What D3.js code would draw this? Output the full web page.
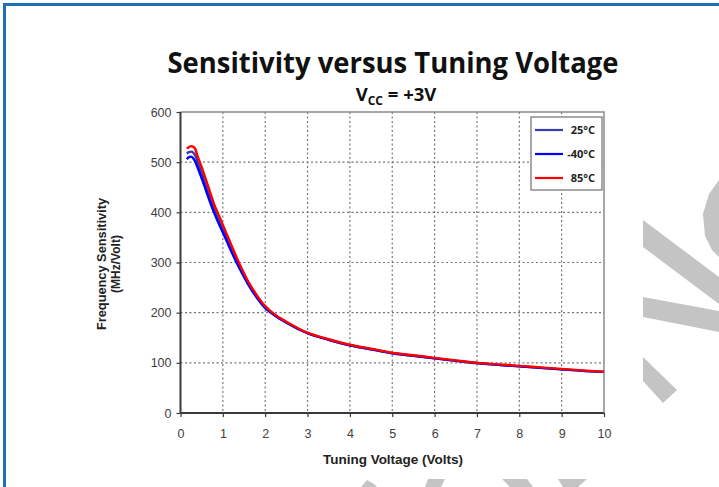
<!DOCTYPE html>
<html>
<head>
<meta charset="utf-8">
<script src="https://cdn.jsdelivr.net/npm/d3@7"></script>
<style>
  body { margin: 0; background: #fff; }
  svg { display: block; }
</style>
</head>
<body>
<svg></svg>
<script>
const size = {w: 719, h: 487};
const plot = {l: 180.5, r: 604, t: 112, b: 413};

// data
const voltage = [0.15, 0.2, 0.25, 0.3, 0.35, 0.4, 0.5, 0.6, 0.7, 0.8, 0.9, 1.0, 1.2, 1.4, 1.6, 1.8, 2.0, 2.2, 2.5, 3.0, 3.5, 4.0, 4.5, 5.0, 5.5, 6.0, 6.5, 7.0, 7.5, 8.0, 8.5, 9.0, 9.5, 10.0];
const sens25 = [517, 520, 521, 519, 513, 501, 478, 453, 428, 405, 385, 366, 327, 290, 258, 232, 211, 197, 181, 159, 146, 135, 127, 119, 114, 109, 104, 99, 96, 93, 90, 87, 84, 82];
const sensM40 = [506, 510, 511, 508, 501, 490, 468, 444, 420, 398, 378, 360, 322, 287, 256, 230, 209, 196, 180, 159, 146, 135, 127, 119, 114, 109, 104, 100, 96, 93, 90, 87, 84, 82];
const sens85 = [527, 530, 532, 531, 526, 513, 490, 465, 440, 415, 395, 375, 335, 296, 262, 235, 213, 198, 182, 160, 147, 136, 128, 120, 115, 110, 105, 100, 97, 94, 91, 88, 85, 82];
const xTicks = [0, 1, 2, 3, 4, 5, 6, 7, 8, 9, 10];
const yTicks = [0, 100, 200, 300, 400, 500, 600];

const series = [
    {name: '25°C', values: sens25, color: '#3b3bb0'},
    {name: '-40°C', values: sensM40, color: '#0000ff'},
    {name: '85°C', values: sens85, color: '#ff0000'}
];

const svg = d3.select('svg')
    .attr('width', size.w)
    .attr('height', size.h);

// watermark pieces that show round the pasted chart image
const wmColor = '#c4c4c4';
const watermark = [
    [[643,220],[719,277],[719,304],[643,247]],
    [[643,297],[719,311],[719,332],[643,317]],
    [[719,180],[709,194],[703,214],[705,236],[712,250],[719,257]],
    [[643,357],[643,381],[663,403],[677,390]],
    [[361,487],[367,480],[374,484],[377,487]],
    [[428,479],[445,479],[441,487],[425,487]],
    [[502,479],[527,479],[533,487],[510,487]],
    [[558,479],[587,479],[578,487],[563,487]]
];
svg.append('g').selectAll('polygon')
    .data(watermark)
    .enter()
    .append('polygon')
    .attr('points', d => d.map(p => p.join(',')).join(' '))
    .attr('fill', wmColor);

// blue page frame
svg.append('rect')
    .attr('x', 4.5).attr('y', 4.5)
    .attr('width', size.w + 10).attr('height', size.h + 10)
    .attr('fill', 'none')
    .attr('stroke', '#1a72b4')
    .attr('stroke-width', 3);

const x = d3.scaleLinear().domain([0, 10]).range([plot.l, plot.r]);
const y = d3.scaleLinear().domain([0, 600]).range([plot.b, plot.t]);

// dotted grid
const grid = svg.append('g').attr('stroke', '#777').attr('stroke-width', 1.2)
    .attr('stroke-dasharray', '2,2.5');
grid.selectAll('.gx')
    .data(xTicks.slice(1, -1))
    .enter().append('line')
    .attr('x1', d => x(d)).attr('x2', d => x(d))
    .attr('y1', plot.t).attr('y2', plot.b);
grid.selectAll('.gy')
    .data(yTicks.slice(1, -1))
    .enter().append('line')
    .attr('x1', plot.l).attr('x2', plot.r)
    .attr('y1', d => y(d)).attr('y2', d => y(d));

// top and right frame
svg.append('path')
    .attr('d', `M${plot.l},${plot.t}H${plot.r}V${plot.b}`)
    .attr('fill', 'none')
    .attr('stroke', '#8a8a8a')
    .attr('stroke-width', 1.5);

// axes
const xAxis = svg.append('g')
    .attr('transform', `translate(0,${plot.b})`)
    .call(d3.axisBottom(x).tickValues(xTicks).tickSize(4).tickPadding(12).tickFormat(d3.format('d')));
const yAxis = svg.append('g')
    .attr('transform', `translate(${plot.l},0)`)
    .call(d3.axisLeft(y).tickValues(yTicks).tickSize(4).tickPadding(5).tickFormat(d3.format('d')));

[xAxis, yAxis].forEach(a => {
    a.select('.domain').attr('stroke', '#3a3a3a').attr('stroke-width', 2);
    a.selectAll('.tick line').attr('stroke', '#3a3a3a').attr('stroke-width', 1.2);
    a.selectAll('.tick text')
        .attr('fill', '#404040')
        .style('font-family', '"Liberation Sans", Arial, sans-serif')
        .style('font-size', '12.5px');
});
yAxis.select('.domain').attr('d', `M0,${plot.b}V${plot.t}`);
xAxis.select('.domain').attr('d', `M${plot.l},0H${plot.r}`);

// curves
const line = d3.line()
    .x((d, i) => x(voltage[i]))
    .y(d => y(d))
    .curve(d3.curveMonotoneX);

svg.append('g').selectAll('path')
    .data(series)
    .enter()
    .append('path')
    .attr('d', d => line(d.values))
    .attr('fill', 'none')
    .attr('stroke', d => d.color)
    .attr('stroke-width', 2.4)
    .attr('stroke-linejoin', 'round');

// legend
const legend = svg.append('g');
legend.append('rect')
    .attr('x', 531).attr('y', 117)
    .attr('width', 71).attr('height', 73)
    .attr('fill', '#fff')
    .attr('stroke', '#707070')
    .attr('stroke-width', 1.2);
const item = legend.selectAll('.item')
    .data(series)
    .enter().append('g')
    .attr('transform', (d, i) => `translate(535,${130 + i * 24})`);
item.append('line')
    .attr('x1', 0).attr('x2', 28)
    .attr('stroke', d => d.color)
    .attr('stroke-width', 2.2);
item.append('text')
    .attr('x', 60).attr('dy', '0.35em')
    .attr('text-anchor', 'end')
    .style('font-family', '"Open Sans", sans-serif')
    .style('font-weight', 'bold')
    .style('font-size', '11px')
    .attr('fill', '#222')
    .text(d => d.name);

// titles
svg.append('text')
    .attr('x', 393).attr('y', 73)
    .attr('text-anchor', 'middle')
    .attr('textLength', 451)
    .attr('lengthAdjust', 'spacingAndGlyphs')
    .style('font-family', '"Open Sans", sans-serif')
    .style('font-weight', 'bold')
    .style('font-size', '28px')
    .attr('fill', '#111')
    .text('Sensitivity versus Tuning Voltage');

const sub = svg.append('text')
    .attr('x', 396).attr('y', 101)
    .attr('text-anchor', 'middle')
    .style('font-family', '"Open Sans", sans-serif')
    .style('font-weight', 'bold')
    .style('font-size', '18.5px')
    .attr('fill', '#111');
sub.append('tspan').text('V');
sub.append('tspan').attr('dy', 4).style('font-size', '12px').text('CC');
sub.append('tspan').attr('dy', -4).text(' = +3V');

const labelFont = '"Liberation Sans", Arial, sans-serif';
svg.append('text')
    .attr('x', 393).attr('y', 464)
    .attr('text-anchor', 'middle')
    .attr('textLength', 140)
    .attr('lengthAdjust', 'spacingAndGlyphs')
    .style('font-family', labelFont)
    .style('font-weight', 'bold')
    .style('font-size', '12px')
    .attr('fill', '#222')
    .text('Tuning Voltage (Volts)');

const yl = svg.append('text')
    .attr('transform', 'translate(106,264) rotate(-90)')
    .attr('text-anchor', 'middle')
    .style('font-family', labelFont)
    .style('font-weight', 'bold')
    .style('font-size', '12px')
    .attr('fill', '#222');
yl.append('tspan').attr('x', 0).attr('textLength', 132).attr('lengthAdjust', 'spacingAndGlyphs')
    .text('Frequency Sensitivity');
yl.append('tspan').attr('x', 0).attr('dy', 14).text('(MHz/Volt)');
</script>
</body>
</html>
